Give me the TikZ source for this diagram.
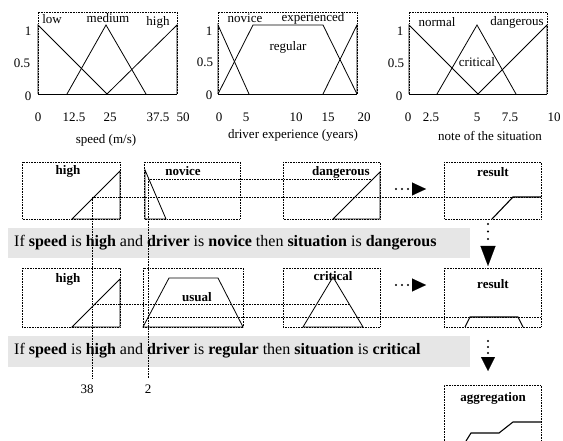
\documentclass[tikz,border=0pt]{standalone}
\usepackage{fontspec}
\setmainfont{Liberation Serif}
\usetikzlibrary{arrows.meta}
\definecolor{bandgray}{HTML}{E6E6E6}
\begin{document}
\begin{tikzpicture}[x=1pt,y=-1pt,
  frame/.style={densely dotted, line width=0.6pt},
  mf/.style={line width=0.8pt, line join=miter},
  res/.style={line width=1.1pt, line join=miter},
  guide/.style={densely dotted, line width=0.6pt},
  tick/.style={font=\fontsize{13}{15}\selectfont, inner sep=0pt},
  ttl/.style={font=\fontsize{13}{15}\selectfont\bfseries, inner sep=0pt},
  ruletext/.style={font=\fontsize{16}{18}\selectfont, inner sep=0pt, anchor=west},
  band/.style={fill=bandgray, draw=none},
  hflow/.style={line width=2.3pt, dash pattern=on 0pt off 6pt, line cap=round,
    -{Triangle[length=14pt,width=13pt,line width=0.1pt]}},
  vflowA/.style={line width=2.3pt, dash pattern=on 0pt off 7.5pt, line cap=round,
    -{Triangle[length=20pt,width=15pt,line width=0.1pt]}},
  vflowB/.style={line width=2.3pt, dash pattern=on 0pt off 6pt, line cap=round,
    -{Triangle[length=14pt,width=14pt,line width=0.1pt]}}
]
\useasboundingbox (0,0) rectangle (563,441);

% ---------- chart 1: speed ----------
\draw[frame] (38,94) rectangle (177,12);
\draw[mf] (38,94) -- (177,94);
\draw[mf] (38,94) -- (38,25) -- (107,94);
\draw[mf] (67,94) -- (106,25) -- (146,94);
\draw[mf] (107,94) -- (177,25) -- (177,94);
\node[tick] (c1y1) at (28,31) {1};
\node[tick] (c1y05) at (22,63) {0.5};
\node[tick] (c1y0) at (28,96) {0};
\node[tick] (c1x0) at (38,117) {0};
\node[tick] (c1x1) at (74,117) {12.5};
\node[tick] (c1x2) at (110,117) {25};
\node[tick] (c1x3) at (158,117) {37.5};
\node[tick] (c1x4) at (183,117) {50};
\node[tick] (c1low) at (52,19) {low};
\node[tick] (c1med) at (108,18) {medium};
\node[tick] (c1high) at (158,22) {high};
\node[tick] (c1cap) at (106,140) {speed (m/s)};

% ---------- chart 2: driver experience ----------
\draw[frame] (218,94) rectangle (357,12);
\draw[mf] (218,94) -- (357,94);
\draw[mf] (218,94) -- (218,25) -- (249,94);
\draw[mf] (218,94) -- (253,25) -- (323,25) -- (357,94);
\draw[mf] (323,94) -- (357,25) -- (357,94);
\node[tick] (c2y1) at (209,31) {1};
\node[tick] (c2y05) at (205,62) {0.5};
\node[tick] (c2y0) at (209,95) {0};
\node[tick] (c2x0) at (219,117) {0};
\node[tick] (c2x1) at (246,117) {5};
\node[tick] (c2x2) at (296,117) {10};
\node[tick] (c2x3) at (328,117) {15};
\node[tick] (c2x4) at (364,117) {20};
\node[tick] (c2nov) at (245,18) {novice};
\node[tick] (c2exp) at (313,18) {experienced};
\node[tick] (c2reg) at (288,47) {regular};
\node[tick] (c2cap) at (293,135) {driver experience (years)};

% ---------- chart 3: note of the situation ----------
\draw[frame] (409,94) rectangle (547,12);
\draw[mf] (409,94) -- (547,94);
\draw[mf] (409,94) -- (409,25) -- (478,94);
\draw[mf] (437,94) -- (477,25) -- (516,94);
\draw[mf] (478,94) -- (547,25) -- (547,94);
\node[tick] (c3y1) at (400,31) {1};
\node[tick] (c3y05) at (396,63) {0.5};
\node[tick] (c3y0) at (399,96) {0};
\node[tick] (c3x0) at (408,117) {0};
\node[tick] (c3x1) at (431,117) {2.5};
\node[tick] (c3x2) at (477,117) {5};
\node[tick] (c3x3) at (510,117) {7.5};
\node[tick] (c3x4) at (554,117) {10};
\node[tick] (c3nor) at (437,22) {normal};
\node[tick] (c3dan) at (517,22) {dangerous};
\node[tick] (c3cri) at (477,62) {critical};
\node[tick] (c3cap) at (490,136) {note of the situation};

% ---------- rule bands ----------
\path[band] (8,228) rectangle (470,258);
\path[band] (8,336) rectangle (470,367);
\node[ruletext] (rule1) at (14,243) {If \textbf{speed} is \textbf{high} and \textbf{driver} is \textbf{novice} then \textbf{situation} is \textbf{dangerous}};
\node[ruletext] (rule2) at (14,351) {If \textbf{speed} is \textbf{high} and \textbf{driver} is \textbf{regular} then \textbf{situation} is \textbf{critical}};

% ---------- guide lines ----------
\draw[guide] (92,197) -- (92,378);
\draw[guide] (148,179) -- (148,378);
\draw[guide] (148,179) -- (373,179);
\draw[guide] (92,197) -- (541,197);
\draw[guide] (92,304) -- (349,304);
\draw[guide] (148,317) -- (541,317);
\node[tick] (v38) at (87,389) {38};
\node[tick] (v2) at (148,389) {2};

% ---------- row 1 ----------
\draw[frame] (22,162) rectangle (120,219);
\draw[mf] (72,219) -- (120,171) -- (120,219) -- cycle;
\node[ttl] (b1) at (68,171) {high};

\draw[frame] (144,162) rectangle (240,219);
\draw[mf] (145,170) -- (166,219) -- (145,219) -- cycle;
\node[ttl] (b2) at (183,171) {novice};

\draw[frame] (283,162) rectangle (380,219);
\draw[mf] (333,219) -- (380,172) -- (380,219) -- cycle;
\node[ttl] (b3) at (341,172) {dangerous};

\draw[frame] (444,162) rectangle (541,219);
\draw[res] (492,219) -- (513,197) -- (541,197);
\node[ttl] (b4) at (493,172) {result};

\coordinate (h1s) at (396,189);
\coordinate (h1e) at (426,189);
\draw[hflow] (h1s) -- (h1e);
\coordinate (d1s) at (488,224);
\coordinate (d1e) at (488,266);
\draw[vflowA] (d1s) -- (d1e);

% ---------- row 2 ----------
\draw[frame] (22,268) rectangle (120,327);
\draw[mf] (72,327) -- (120,279) -- (120,327) -- cycle;
\node[ttl] (e1) at (68,279) {high};

\draw[frame] (143,268) rectangle (243,327);
\draw[mf] (143,327) -- (169,278) -- (218,278) -- (243,327) -- cycle;
\node[ttl] (e2) at (197,297) {usual};

\draw[frame] (283,268) rectangle (380,327);
\draw[mf] (303,327) -- (333,277) -- (363,327) -- cycle;
\node[ttl] (e3) at (333,276) {critical};

\draw[frame] (444,268) rectangle (541,327);
\draw[res] (465,327) -- (470,317) -- (518,317) -- (523,327);
\node[ttl] (e4) at (493,284) {result};

\coordinate (h2s) at (396,285);
\coordinate (h2e) at (426,285);
\draw[hflow] (h2s) -- (h2e);
\coordinate (d2s) at (488,341);
\coordinate (d2e) at (488,371);
\draw[vflowB] (d2s) -- (d2e);

% ---------- aggregation ----------
\draw[frame] (444,441) -- (444,385) -- (541,385) -- (541,441);
\draw[res] (466,441) -- (471,433) -- (499,433) -- (513,422) -- (541,422);
\node[ttl] (agg) at (493,398) {aggregation};
\end{tikzpicture}
\end{document}
